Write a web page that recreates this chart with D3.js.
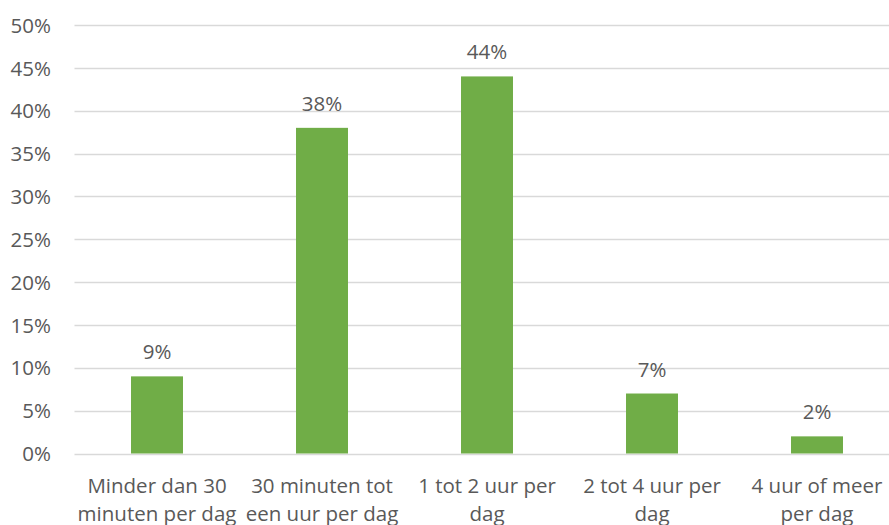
<!DOCTYPE html>
<html>
<head>
<meta charset="utf-8">
<script src="https://cdn.jsdelivr.net/npm/d3@7"></script>
<style>
  html, body { margin: 0; padding: 0; background: #fff; overflow: hidden; }
  svg { display: block; }
  text { font-family: "Open Sans", "Liberation Sans", sans-serif; fill: #595959; }
</style>
</head>
<body>
<svg id="chart" width="889" height="525"></svg>
<script>
// Time spent per day (share of respondents)
const categories = [
  ["Minder dan 30", "minuten per dag"],
  ["30 minuten tot", "een uur per dag"],
  ["1 tot 2 uur per", "dag"],
  ["2 tot 4 uur per", "dag"],
  ["4 uur of meer", "per dag"]
];
const values = [0.09, 0.38, 0.44, 0.07, 0.02];
const yTicks = [0, 0.05, 0.10, 0.15, 0.20, 0.25, 0.30, 0.35, 0.40, 0.45, 0.50];

const svg = d3.select("#chart");
const W = 889;
const plot = { left: 74.5, right: 899.5, top: 25, bottom: 453.5 };
const fs = 20.5;

const x = d3.scaleBand()
  .domain(d3.range(categories.length))
  .range([plot.left, plot.right])
  .paddingInner(0.685)
  .paddingOuter(0.3425);

const y = d3.scaleLinear().domain([0, 0.5]).range([plot.bottom, plot.top]);
const pct = d3.format(".0%");

// gridlines
svg.append("g")
  .selectAll("line")
  .data(yTicks)
  .join("line")
  .attr("x1", plot.left)
  .attr("x2", W)
  .attr("y1", d => Math.round(y(d)) + 0.5)
  .attr("y2", d => Math.round(y(d)) + 0.5)
  .attr("stroke", "#D9D9D9")
  .attr("stroke-width", 1.3);

// y axis labels
const yAxis = d3.axisLeft(y).tickValues(yTicks).tickFormat(pct).tickSize(0).tickPadding(0);
svg.append("g")
  .attr("transform", "translate(51,0)")
  .call(yAxis)
  .call(g => g.select(".domain").remove())
  .call(g => g.selectAll("text")
    .attr("font-size", fs)
    .attr("font-family", null)
    .attr("fill", "#595959")
    .attr("dy", "0.35em"));

// bars
svg.append("g")
  .selectAll("rect")
  .data(values)
  .join("rect")
  .attr("x", (d, i) => x(i))
  .attr("width", x.bandwidth())
  .attr("y", d => y(d))
  .attr("height", d => y(0) - y(d))
  .attr("fill", "#70AD47");

// value labels
svg.append("g")
  .selectAll("text")
  .data(values)
  .join("text")
  .attr("x", (d, i) => x(i) + x.bandwidth() / 2)
  .attr("y", d => y(d) - 17)
  .attr("text-anchor", "middle")
  .attr("font-size", fs)
  .text(d => pct(d));

// category labels (two lines)
const xAxis = svg.append("g");
categories.forEach((lines, i) => {
  const t = xAxis.append("text")
    .attr("x", x(i) + x.bandwidth() / 2)
    .attr("y", 493)
    .attr("text-anchor", "middle")
    .attr("font-size", fs);
  lines.forEach((s, j) => {
    t.append("tspan")
      .attr("x", x(i) + x.bandwidth() / 2)
      .attr("dy", j === 0 ? 0 : 27.5)
      .text(s);
  });
});
</script>
</body>
</html>
